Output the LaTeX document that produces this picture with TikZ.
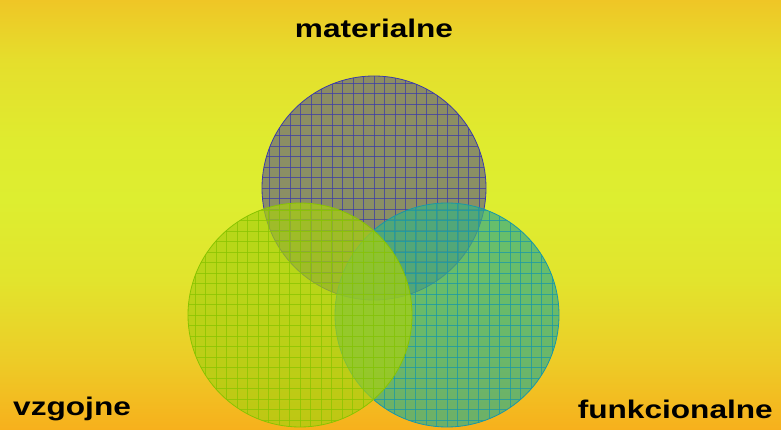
\documentclass[tikz,border=0pt]{standalone}
\usepackage{fontspec}
\setmainfont{Liberation Sans}
\definecolor{matfill}{HTML}{707076}
\definecolor{matgrid}{HTML}{3C3CA8}
\definecolor{funfill}{HTML}{40B080}
\definecolor{fungrid}{HTML}{1898A8}
\definecolor{vzgfill}{HTML}{A8D010}
\definecolor{vzggrid}{HTML}{88C400}
\pgfdeclareverticalshading{bgshade}{100bp}{%
  rgb(0bp)=(0.969,0.690,0.110);
  rgb(25bp)=(0.969,0.690,0.110);
  rgb(33.1bp)=(0.929,0.800,0.153);
  rgb(42.4bp)=(0.886,0.894,0.176);
  rgb(51.7bp)=(0.867,0.933,0.188);
  rgb(58.7bp)=(0.875,0.922,0.184);
  rgb(68bp)=(0.898,0.871,0.173);
  rgb(75bp)=(0.937,0.776,0.149);
  rgb(100bp)=(0.937,0.776,0.149)}
\tikzset{
  lbl/.style={inner sep=0pt, font=\fontsize{25.5}{30}\selectfont\bfseries},
}
\newcommand{\gridcircle}[5]{% cx, cy, fill, grid, opacity
  \begin{scope}
    \fill[#3, fill opacity=#5] (#1,#2) circle (112);
    \clip (#1,#2) circle (112);
    \foreach \i in {-11,...,11}{
      \draw[#4, line width=0.7pt, opacity=0.75] (#1+\i*10.5,#2-112) -- (#1+\i*10.5,#2+112);
      \draw[#4, line width=0.7pt, opacity=0.75] (#1-112,#2+\i*10.5) -- (#1+112,#2+\i*10.5);
    }
  \end{scope}
  \draw[#4, line width=0.8pt] (#1,#2) circle (112);
}
\begin{document}
\begin{tikzpicture}[x=1pt,y=1pt]
\useasboundingbox (0,0) rectangle (781,430);
\shade[shading=bgshade] (0,0) rectangle (781,430);
\gridcircle{374}{242}{matfill}{matgrid}{0.75}
\gridcircle{447}{115}{funfill}{fungrid}{0.75}
\gridcircle{300}{115}{vzgfill}{vzggrid}{0.7}
\node[lbl, anchor=base] (mat) at (374,392) {\scalebox{1.24}[1]{materialne}};
\node[lbl, anchor=base west] (vzg) at (13,14.5) {\scalebox{1.24}[1]{vzgojne}};
\node[lbl, anchor=base east] (fun) at (773,11) {\scalebox{1.24}[1]{funkcionalne}};
\end{tikzpicture}
\end{document}
